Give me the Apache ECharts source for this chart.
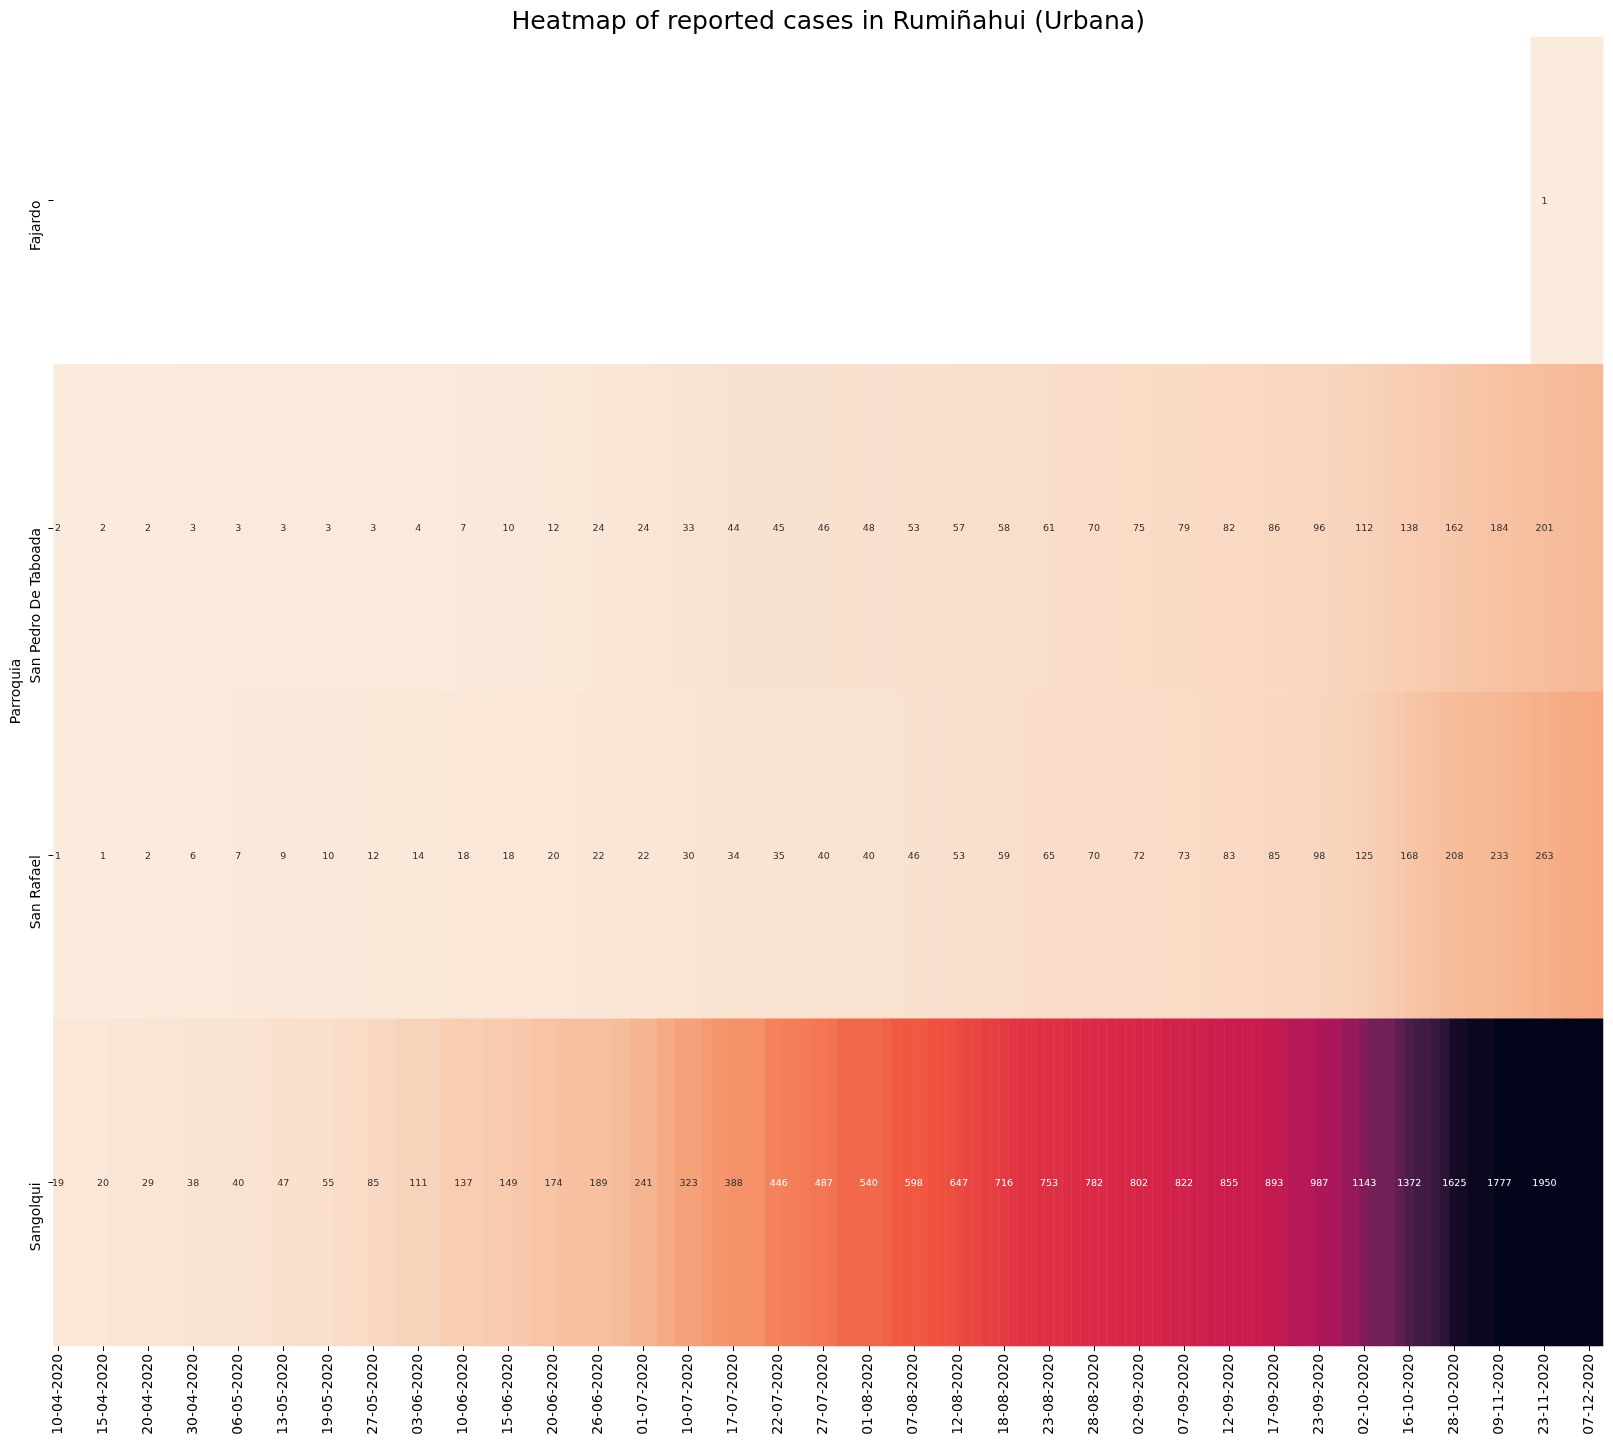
<!DOCTYPE html>
<html><head><meta charset="utf-8">
<style>html,body{margin:0;padding:0;background:#fff}#c{width:1613px;height:1446px}</style>
<script src="https://cdn.jsdelivr.net/npm/echarts@6/dist/echarts.min.js"></script>
</head><body><div id="c"></div>
<script>
const parroquias = ["Fajardo","San Pedro De Taboada","San Rafael","Sangolqui"];
const tickLabels = ["10-04-2020","15-04-2020","20-04-2020","30-04-2020","06-05-2020","13-05-2020","19-05-2020","27-05-2020","03-06-2020","10-06-2020","15-06-2020","20-06-2020","26-06-2020","01-07-2020","10-07-2020","17-07-2020","22-07-2020","27-07-2020","01-08-2020","07-08-2020","12-08-2020","18-08-2020","23-08-2020","28-08-2020","02-09-2020","07-09-2020","12-09-2020","17-09-2020","23-09-2020","02-10-2020","16-10-2020","28-10-2020","09-11-2020","23-11-2020","07-12-2020"];
// Each row has 172 daily cells; estimates read from the colour bands, ten per line.
const fajardo = [
null,null,null,null,null,null,null,null,null,null,
null,null,null,null,null,null,null,null,null,null,
null,null,null,null,null,null,null,null,null,null,
null,null,null,null,null,null,null,null,null,null,
null,null,null,null,null,null,null,null,null,null,
null,null,null,null,null,null,null,null,null,null,
null,null,null,null,null,null,null,null,null,null,
null,null,null,null,null,null,null,null,null,null,
null,null,null,null,null,null,null,null,null,null,
null,null,null,null,null,null,null,null,null,null,
null,null,null,null,null,null,null,null,null,null,
null,null,null,null,null,null,null,null,null,null,
null,null,null,null,null,null,null,null,null,null,
null,null,null,null,null,null,null,null,null,null,
null,null,null,null,null,null,null,null,null,null,
null,null,null,null,null,null,null,null,null,null,
null,null,null,null,1,1,1,1,1,1,
1,1];
const sanPedro = [
2,2,2,2,2,2,2,2,2,2,
2,2,2,2,3,3,3,3,3,3,
3,3,3,3,3,3,3,3,3,3,
3,3,3,3,3,3,3,3,3,4,
4,4,5,5,6,7,8,8,9,9,
10,10,11,11,11,12,13,14,15,16,
24,24,24,24,24,24,26,27,29,31,
33,35,37,39,42,44,44,44,44,45,
45,45,45,46,46,46,46,47,47,47,
48,49,49,50,52,53,54,55,56,56,
57,57,57,58,58,58,59,59,60,60,
61,63,64,66,68,70,71,72,73,74,
75,75,76,77,78,79,79,80,81,81,
82,83,84,84,85,86,87,88,89,90,
96,98,100,104,108,112,120,124,129,133,
138,142,146,151,155,162,165,170,175,180,
184,187,190,193,197,201,208,212,216,222,
225,228];
const sanRafael = [
1,1,1,1,1,1,1,1,2,2,
2,3,4,5,5,6,6,6,6,6,
7,8,8,8,8,9,9,9,10,10,
10,10,11,11,12,12,12,13,13,14,
14,15,15,16,17,18,18,18,18,18,
18,18,19,19,19,20,20,20,21,21,
22,22,22,22,22,22,24,25,27,28,
30,31,32,33,34,34,34,34,35,35,
35,36,37,38,39,40,40,40,40,40,
40,41,42,43,45,46,47,48,50,52,
53,54,55,56,57,59,60,61,63,64,
65,66,67,68,69,70,70,71,71,72,
72,72,72,73,73,73,75,77,79,81,
83,83,84,84,85,85,86,89,92,95,
98,102,106,110,116,125,133,141,150,159,
168,174,185,192,200,208,214,220,224,228,
233,238,243,250,258,263,271,277,282,288,
292,296];
const sangolqui = [
19,19,19,20,20,20,26,26,26,26,
29,29,29,29,38,38,38,38,38,38,
40,40,40,40,47,47,47,55,55,55,
55,66,66,74,74,85,85,85,111,111,
111,111,111,137,137,137,137,137,149,149,
149,158,158,174,174,174,189,189,189,189,
189,198,210,210,241,241,241,290,290,323,
323,323,352,370,370,388,388,388,388,446,
446,460,460,474,487,487,505,540,540,540,
540,540,566,598,598,598,598,625,625,625,
647,668,668,695,695,716,725,738,738,753,
753,753,766,772,782,782,782,792,792,792,
802,802,802,822,822,822,835,835,848,848,
855,855,855,855,875,893,905,945,945,945,
987,987,987,1075,1075,1143,1225,1225,1225,1300,
1372,1420,1420,1470,1520,1625,1640,1680,1680,1680,
1777,1800,1825,1850,1900,1950,1975,1995,2020,2045,
2070,2100];
const rows = [fajardo, sanPedro, sanRafael, sangolqui];
const rocketR = ["#faebdd","#f8d0b7","#f6b48f","#f5966d","#f37651","#ef5340","#e13342","#cb1b4f","#ad1759","#8e1a5a","#701f57","#511e4d","#35193e","#1b0c2a","#03051a"];
const font = "DejaVu Sans";

const categories = sanPedro.map((_, i) => i % 5 === 0 ? tickLabels[i / 5] : "");
const cells = [];
rows.forEach((row, y) => row.forEach((v, x) => {
  if (v === null) return;
  const annotated = x % 5 === 0 && x <= 165;
  cells.push({value: [x, y, v], label: annotated
    ? {show: true, color: v >= 420 ? "#ffffff" : "#303030"}
    : {show: false}});
}));

const chart = echarts.init(document.getElementById("c"), null, {renderer: "canvas", width: 1613, height: 1446});
chart.setOption({
  animation: false,
  backgroundColor: "#ffffff",
  title: {text: "Heatmap of reported cases in Rumiñahui (Urbana)", left: 506.5, top: 5,
    textStyle: {fontFamily: font, fontSize: 25.1, fontWeight: "normal", color: "#000"}},
  grid: {left: 53.5, top: 37, width: 1549.5, height: 1309, containLabel: false, outerBoundsMode: "none"},
  xAxis: {type: "category", data: categories, position: "bottom",
    axisLine: {show: false}, splitLine: {show: false}, splitArea: {show: false},
    axisTick: {show: true, interval: 4, alignWithLabel: true, length: 5, lineStyle: {color: "#000", width: 1}},
    axisLabel: {show: true, interval: 4, rotate: 90, margin: 8, hideOverlap: false, fontFamily: font, fontSize: 13.9, color: "#000"}},
  yAxis: {type: "category", data: parroquias, inverse: true, name: "Parroquia", nameLocation: "middle", nameGap: 30, nameMoveOverlap: false,
    nameRotate: 90, nameTextStyle: {fontFamily: font, fontSize: 13.9, color: "#000"},
    axisLine: {show: false}, splitLine: {show: false}, splitArea: {show: false},
    axisTick: {show: true, alignWithLabel: true, length: 5, lineStyle: {color: "#000", width: 1}},
    axisLabel: {rotate: 90, margin: 10, align: "right", verticalAlign: "bottom", fontFamily: font, fontSize: 13.9, color: "#000"}},
  visualMap: {type: "continuous", show: false, min: 0, max: 1720, dimension: 2, seriesIndex: 0,
    inRange: {color: rocketR}, outOfRange: {color: ["#03051a"]}},
  series: [{type: "heatmap", data: cells, progressive: 0,
    itemStyle: {borderWidth: 0},
    label: {show: false, fontFamily: font, fontSize: 9.5, position: "inside", offset: [0, 1]},
    emphasis: {disabled: true}}]
});
</script></body></html>
